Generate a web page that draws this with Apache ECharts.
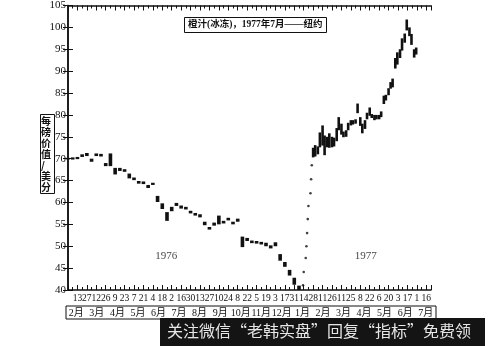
<!DOCTYPE html>
<html><head><meta charset="utf-8">
<script src="https://cdn.jsdelivr.net/npm/echarts@6/dist/echarts.min.js"></script>
<style>html,body{margin:0;padding:0;background:#fff}#c{width:490px;height:346px}</style>
</head><body><div id="c"></div>
<script>
// x values: days since 1976-01-30
const xTickLabels = ['13','27','12','26','9','23','7','21','4','18','2','16','30','13','27','10','24','8','22','5','19','3','17','31','14','28','11','26','11','25','8','22','6','20','3','17','1','16'];
const months = ['2月','3月','4月','5月','6月','7月','8月','9月','10月','11月','12月','1月','2月','3月','4月','5月','6月','7月'];
const yTicks = [40,45,50,55,60,65,70,75,80,85,90,95,100,105];

const days1976 = [0,7,14,21,28,35,42,49,56,63,70,77,84,91,98,105,112,119,126,133,140,147,154,161,168,175,182,189,196,203,210,217,224,231,238,245,252,259,266,273,280,287,294,301,308,315,322,329,336,343];
const lo1976 = [69.8,69.8,69.9,70.4,70.6,69.3,70.6,70.5,68.3,68.3,66.4,67.2,67.0,65.5,65.1,64.3,64.2,63.3,64.0,60.1,58.5,55.8,58.0,59.2,58.6,58.4,57.5,57.0,56.6,54.8,53.8,54.7,55.0,55.2,55.9,55.0,55.6,49.8,51.2,50.7,50.6,50.4,50.0,49.5,50.0,46.7,45.3,43.3,41.2,40.0];
const hi1976 = [70.2,70.3,70.4,71.0,71.3,70.0,71.2,71.1,69.0,71.2,67.9,67.9,67.6,66.6,65.7,64.9,64.8,64.0,64.5,61.5,59.8,57.8,59.0,59.9,59.3,59.0,58.1,57.6,57.3,55.6,54.4,55.4,57.0,55.8,56.5,55.6,56.3,52.2,51.9,51.3,51.2,51.0,50.8,50.2,50.9,48.2,46.4,44.6,42.8,41.0];

const limitDays = [349,350,353,354,355,356,357,360,361,362];
const limitValues = [41.1,44.1,47.3,50.0,53.0,56.2,59.2,62.1,65.3,68.5];

const days1977 = [364,367,371,374,378,381,385,388,392,395,399,402,406,409,413,416,420,423,427,430,434,437,441,444,448,451,455,458,462,465,469,472,476,479,482,486,489,493,496,500,503,507,510,514,517];
const lo1977 = [70.3,70.5,71.0,72.6,73.0,70.8,72.6,72.5,72.6,72.8,74.0,76.5,75.5,74.9,75.0,76.5,77.6,77.8,78.0,80.4,77.5,75.8,76.8,79.0,79.8,79.3,78.8,79.0,79.0,79.5,82.5,83.3,84.5,86.0,86.3,90.6,91.5,93.0,94.7,96.5,99.3,98.0,96.0,93.1,93.8];
const hi1977 = [72.5,73.1,72.8,76.0,77.6,75.3,75.0,75.8,75.0,74.8,77.0,79.5,78.0,76.2,76.5,78.2,78.8,78.8,79.0,82.6,79.5,78.0,78.8,80.5,81.7,80.2,80.0,80.0,80.0,80.8,84.4,84.6,86.1,87.5,88.3,93.0,94.3,95.0,97.5,98.6,101.8,100.0,98.5,95.0,95.4];

const yearLabels = ['1976','1977'];
const yearLabelDays = [146,442];
const yearLabelValue = 47.8;

const titleText = '橙汁(冰冻)，1977年7月——纽约';
const yName = ['每','磅','价','值','/','美','分'];
const watermark = '关注微信“老韩实盘”回复“指标”免费领';

const serif = 'Liberation Serif, "Noto Sans CJK SC", serif';

function bars(days, lo, hi, w) {
  return {
    type: 'custom',
    xAxisIndex: 0, yAxisIndex: 0,
    data: days.map((d, i) => [d, lo[i], hi[i]]),
    encode: { x: 0, y: [1, 2] },
    renderItem: function (params, api) {
      const top = api.coord([api.value(0), api.value(2)]);
      const bot = api.coord([api.value(0), api.value(1)]);
      return {
        type: 'rect',
        shape: { x: top[0] - w / 2, y: top[1], width: w, height: Math.max(bot[1] - top[1], 1.6) },
        style: { fill: '#111' }
      };
    },
    silent: true, animation: false
  };
}

const axisLineStyle = { lineStyle: { color: '#111', width: 1.5 } };
const chart = echarts.init(document.getElementById('c'));
chart.setOption({
  animation: false,
  backgroundColor: '#fff',
  title: {
    text: titleText, left: 184, top: 17,
    padding: [3, 4], borderColor: '#111', borderWidth: 1,
    textStyle: { fontSize: 9.5, fontWeight: 'bold', color: '#111', fontFamily: serif }
  },
  grid: [
    { left: 68, top: 5, width: 363, height: 285 },
    { left: 66, top: 306, width: 370, height: 13, show: true, borderColor: '#111', borderWidth: 1, backgroundColor: 'transparent' }
  ],
  xAxis: [
    { type: 'value', gridIndex: 0, min: 0, max: 539, interval: 14, position: 'bottom',
      axisLine: axisLineStyle,
      axisTick: { inside: true, length: 5, lineStyle: { color: '#111' } },
      minorTick: { show: true, splitNumber: 2, length: 3, lineStyle: { color: '#111' } },
      splitLine: { show: false },
      axisLabel: { margin: 4, fontSize: 9.5, color: '#111', fontFamily: serif,
        formatter: function (v) { const i = (v - 14) / 14; return (Number.isInteger(i) && i >= 0 && i < xTickLabels.length) ? xTickLabels[i] : ''; } } },
    { type: 'value', gridIndex: 0, min: 0, max: 539, interval: 14, position: 'top',
      axisLine: axisLineStyle,
      axisTick: { inside: true, length: 5, lineStyle: { color: '#111' } },
      minorTick: { show: true, splitNumber: 2, length: 3, lineStyle: { color: '#111' } },
      splitLine: { show: false }, axisLabel: { show: false } },
    { type: 'category', gridIndex: 1, data: months, position: 'bottom',
      axisLine: { show: false }, axisTick: { show: false },
      axisLabel: { inside: true, margin: 1, fontSize: 10, color: '#111', fontFamily: serif, interval: 0 } }
  ],
  yAxis: [
    { type: 'value', gridIndex: 0, min: yTicks[0], max: yTicks[yTicks.length - 1], interval: 5, position: 'left',
      axisLine: { show: true, lineStyle: { color: '#111', width: 1.5 } },
      axisTick: { show: true, inside: true, length: 5, lineStyle: { color: '#111' } },
      splitLine: { show: false },
      axisLabel: { margin: 2, fontSize: 11, color: '#111', fontFamily: serif } },
    { type: 'value', gridIndex: 0, min: yTicks[0], max: yTicks[yTicks.length - 1], interval: 5, position: 'right',
      axisLine: { show: true, lineStyle: { color: '#111', width: 1.5 } },
      axisTick: { show: true, inside: true, length: 5, lineStyle: { color: '#111' } },
      splitLine: { show: false }, axisLabel: { show: false } },
    { type: 'value', gridIndex: 1, show: false }
  ],
  graphic: [
    { type: 'rect', left: 40, top: 114, shape: { width: 14, height: 79 }, style: { fill: '#fff', stroke: '#111', lineWidth: 1 } },
    { type: 'text', left: 41, top: 116, style: { text: yName.join('\n'), font: 'bold 10px "Noto Sans CJK SC"', fill: '#111', lineHeight: 11 } },
    { type: 'rect', left: 160, top: 318, shape: { width: 325, height: 28 }, style: { fill: '#141414' } },
    { type: 'text', left: 167, top: 323, style: { text: watermark, font: '16px "Noto Sans CJK SC"', fill: '#e6e6e6' } }
  ],
  series: [
    bars(days1976, lo1976, hi1976, 3.6),
    bars(days1977, lo1977, hi1977, 2.6),
    { type: 'scatter', xAxisIndex: 0, yAxisIndex: 0, symbol: 'circle', symbolSize: 2.6,
      itemStyle: { color: '#111' }, data: limitDays.map((d, i) => [d, limitValues[i]]), silent: true },
    { type: 'scatter', xAxisIndex: 0, yAxisIndex: 0, symbolSize: 0, silent: true,
      data: yearLabels.map((t, i) => ({ name: t, value: [yearLabelDays[i], yearLabelValue] })),
      label: { show: true, position: 'inside', formatter: '{b}', fontSize: 11, color: '#111', fontFamily: serif } }
  ]
});
</script></body></html>
